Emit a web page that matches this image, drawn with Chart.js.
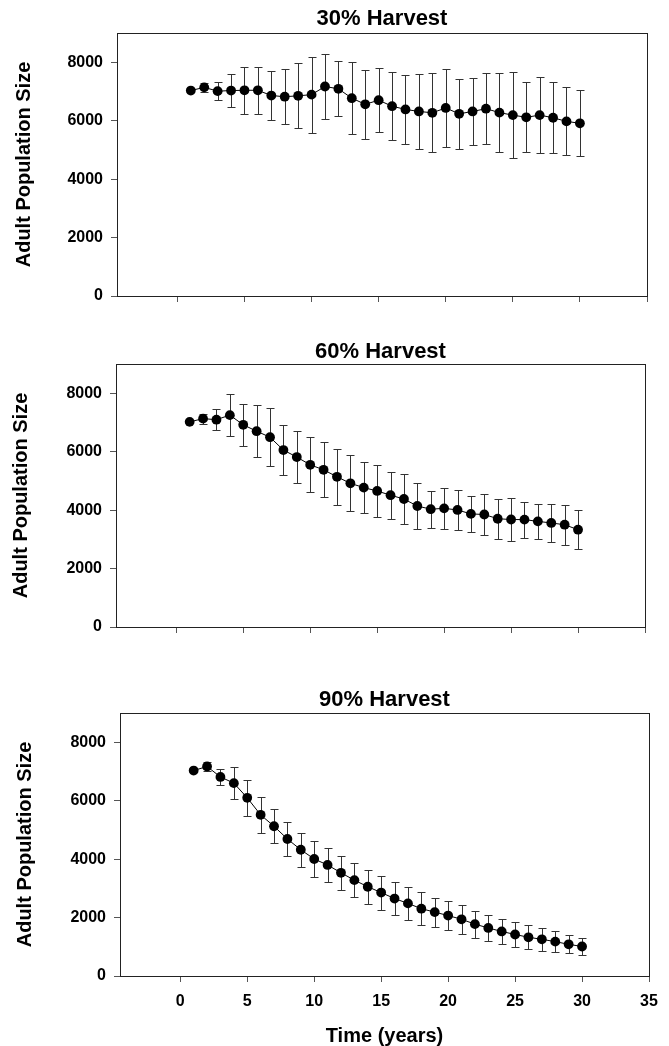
<!DOCTYPE html>
<html>
<head>
<meta charset="utf-8">
<script src="https://cdn.jsdelivr.net/npm/chart.js@4.4.1/dist/chart.umd.min.js"></script>
<style>
  html, body { margin: 0; padding: 0; background: #fff; }
  body { width: 669px; height: 1046px; position: relative; overflow: hidden; }
  canvas { position: absolute; left: 0; }
</style>
</head>
<body>
<canvas id="p30" width="669" height="330" style="top:0px"></canvas>
<canvas id="p60" width="669" height="350" style="top:330px"></canvas>
<canvas id="p90" width="669" height="366" style="top:680px"></canvas>
<script>
// years of simulation
const years = [1, 2, 3, 4, 5, 6, 7, 8, 9, 10, 11, 12, 13, 14, 15, 16, 17, 18, 19, 20, 21, 22, 23, 24, 25, 26, 27, 28, 29, 30];

// mean adult population and +/- error
const harvest30 = [7030, 7140, 7010, 7030, 7040, 7040, 6860, 6820, 6850, 6890, 7170, 7090, 6770, 6560, 6700, 6495, 6385, 6315, 6270, 6435, 6235, 6315, 6410, 6275, 6190, 6115, 6190, 6100, 5975, 5910];
const harvest30Err = [0, 160, 310, 570, 800, 800, 850, 940, 1110, 1300, 1120, 940, 1225, 1190, 1100, 1160, 1185, 1285, 1355, 1325, 1205, 1150, 1210, 1360, 1470, 1200, 1290, 1210, 1165, 1130];

const harvest60 = [7020, 7130, 7095, 7250, 6920, 6700, 6495, 6055, 5815, 5550, 5380, 5140, 4918, 4770, 4655, 4510, 4380, 4140, 4032, 4060, 4005, 3870, 3850, 3705, 3678, 3675, 3615, 3560, 3500, 3330];
const harvest60Err = [0, 170, 370, 720, 720, 890, 990, 850, 890, 940, 940, 960, 965, 870, 875, 810, 840, 775, 630, 705, 673, 615, 690, 678, 750, 615, 590, 645, 677, 677];

const harvest90 = [7030, 7170, 6812, 6600, 6098, 5515, 5125, 4688, 4320, 4004, 3800, 3531, 3280, 3055, 2855, 2651, 2485, 2303, 2186, 2068, 1941, 1775, 1644, 1524, 1421, 1325, 1255, 1176, 1084, 1010];
const harvest90Err = [0, 170, 287, 555, 612, 623, 577, 583, 573, 600, 588, 583, 583, 588, 583, 571, 565, 566, 497, 502, 492, 463, 456, 439, 418, 411, 389, 355, 308, 280];

const xTicks = [0, 5, 10, 15, 20, 25, 30, 35];
const yTicks = [0, 2000, 4000, 6000, 8000];

const FONT = "'Liberation Sans', Arial, Helvetica, sans-serif";

// vertical error bars with caps, drawn under the line and markers
const errorBars = {
  id: 'errorBars',
  beforeDatasetsDraw(chart, args, opts) {
    const { ctx, scales: { x, y } } = chart;
    const errs = opts.errors || [];
    ctx.save();
    ctx.strokeStyle = opts.color;
    ctx.lineWidth = 1;
    chart.data.datasets[0].data.forEach((pt, i) => {
      const e = errs[i];
      if (!e) return;
      const px = Math.round(x.getPixelForValue(pt.x)) + 0.5;
      const top = Math.round(y.getPixelForValue(pt.y + e)) + 0.5;
      const bot = Math.round(y.getPixelForValue(pt.y - e)) + 0.5;
      ctx.beginPath();
      ctx.moveTo(px, top); ctx.lineTo(px, bot);
      ctx.moveTo(px - opts.cap, top); ctx.lineTo(px + opts.cap, top);
      ctx.moveTo(px - opts.cap, bot); ctx.lineTo(px + opts.cap, bot);
      ctx.stroke();
    });
    ctx.restore();
  }
};

// closed box around the plot area
const frame = {
  id: 'frame',
  afterDraw(chart) {
    const { ctx, chartArea: a } = chart;
    ctx.save();
    ctx.strokeStyle = '#222';
    ctx.lineWidth = 1;
    ctx.strokeRect(Math.round(a.left) + 0.5, Math.round(a.top) + 0.5,
      Math.round(a.right) - Math.round(a.left), Math.round(a.bottom) - Math.round(a.top));
    ctx.restore();
  }
};

function makePanel(id, p) {
  return new Chart(document.getElementById(id), {
    type: 'line',
    data: {
      datasets: [{
        data: years.map((t, i) => ({ x: t, y: p.means[i] })),
        borderColor: '#000',
        borderWidth: 1,
        pointRadius: 4.9,
        pointBackgroundColor: '#000',
        pointBorderWidth: 0,
        tension: 0
      }]
    },
    options: {
      responsive: false,
      animation: false,
      events: [],
      layout: { padding: { left: 0, right: p.padRight, top: 0, bottom: 0 } },
      plugins: {
        legend: { display: false },
        tooltip: { enabled: false },
        title: {
          display: true,
          text: p.title,
          fullSize: false,
          color: '#000',
          font: { family: FONT, size: 22, weight: 'bold', lineHeight: 1 },
          padding: { top: p.titleTop, bottom: p.titleBottom }
        },
        errorBars: { errors: p.errors, cap: 4, color: '#333' }
      },
      scales: {
        x: {
          type: 'linear',
          min: -4.5,
          max: 35,
          afterBuildTicks: s => { s.ticks = xTicks.map(v => ({ value: v })); },
          afterFit: s => { s.height = p.xHeight; },
          grid: { display: true, drawOnChartArea: false, drawTicks: true, tickLength: 6, tickColor: '#555' },
          border: { display: true, color: '#222', width: 1 },
          ticks: {
            display: p.xLabels,
            autoSkip: false,
            maxRotation: 0,
            padding: 10,
            color: '#000',
            font: { family: FONT, size: 16, weight: 'bold' },
            callback: v => String(v)
          },
          title: {
            display: p.xLabels,
            text: 'Time (years)',
            color: '#000',
            font: { family: FONT, size: 20, weight: 'bold', lineHeight: 1 },
            padding: { top: 0, bottom: 0 }
          }
        },
        y: {
          min: 0,
          max: 9000,
          afterBuildTicks: s => { s.ticks = yTicks.map(v => ({ value: v })); },
          afterFit: s => { s.width = p.left; },
          grid: { display: true, drawOnChartArea: false, drawTicks: true, tickLength: 6, tickColor: '#555' },
          border: { display: true, color: '#222', width: 1 },
          ticks: {
            padding: 8,
            color: '#000',
            font: { family: FONT, size: 16, weight: 'bold' },
            callback: v => String(v)
          },
          title: {
            display: true,
            text: 'Adult Population Size',
            color: '#000',
            font: { family: FONT, size: 20, weight: 'bold', lineHeight: 1 },
            padding: { top: p.yTitlePad, bottom: 0 }
          }
        }
      }
    },
    plugins: [errorBars, frame]
  });
}

makePanel('p30', {
  title: '30% Harvest', means: harvest30, errors: harvest30Err,
  left: 117, padRight: 22, titleTop: 8.2, titleBottom: 2.8, xHeight: 34, xLabels: false, yTitlePad: 14.5
});
makePanel('p60', {
  title: '60% Harvest', means: harvest60, errors: harvest60Err,
  left: 116, padRight: 24, titleTop: 10.7, titleBottom: 1.3, xHeight: 53, xLabels: false, yTitlePad: 11.8
});
makePanel('p90', {
  title: '90% Harvest', means: harvest90, errors: harvest90Err,
  left: 120, padRight: 20, titleTop: 9.3, titleBottom: 1.7, xHeight: 70, xLabels: true, yTitlePad: 15.2
});
</script>
</body>
</html>
